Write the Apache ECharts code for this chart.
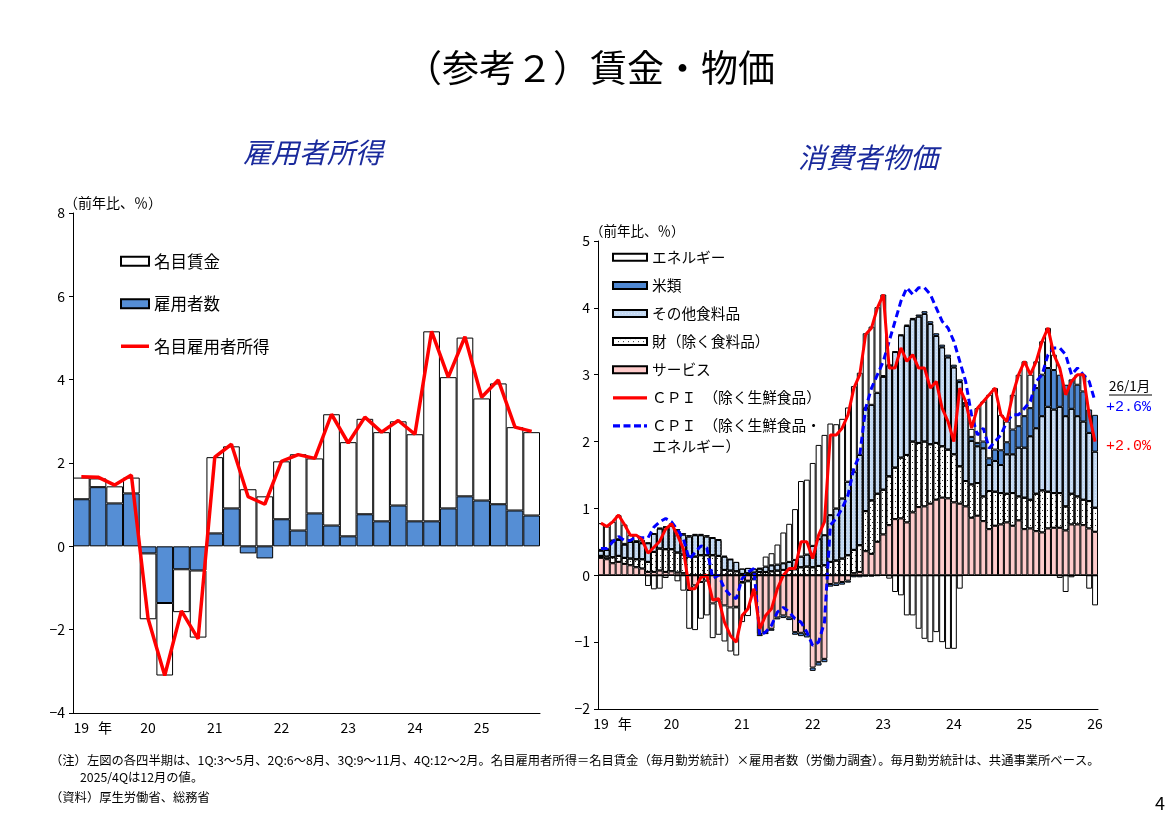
<!DOCTYPE html>
<html>
<head>
<meta charset="utf-8">
<script src="https://cdn.jsdelivr.net/npm/echarts@6/dist/echarts.min.js"></script>
<style>
  html, body { margin: 0; padding: 0; background: #fff; }
  #chart { width: 1170px; height: 827px; }
</style>
</head>
<body>
<div id="chart"></div>
<script>
const JP = '"Noto Sans CJK JP", "Noto Sans", sans-serif';

// year tick labels (shared by both panels)
const yearLabels = ['19', '20', '21', '22', '23', '24', '25', '26'];

// ---- left panel: 雇用者所得 (quarterly, 2019Q1 - 2025Q4) ----
const quarterCats = [];
for (let y = 2019; y <= 2025; y++) for (let q = 1; q <= 4; q++) quarterCats.push(y + '/' + q + 'Q');

const employees = [1.13, 1.42, 1.03, 1.27, -0.17, -1.36, -0.55, -0.58, 0.31, 0.91, -0.17, -0.29, 0.65, 0.38,
  0.79, 0.50, 0.24, 0.77, 0.60, 0.98, 0.60, 0.60, 0.91, 1.20, 1.10, 1.01, 0.86, 0.74];
const wages = [0.52, 0.21, 0.41, 0.38, -1.58, -1.74, -1.03, -1.61, 1.83, 1.49, 1.37, 1.20, 1.39, 1.83,
  1.32, 2.67, 2.26, 2.29, 2.14, 2.02, 2.09, 4.56, 3.15, 3.81, 2.45, 2.90, 2.00, 2.00];
const income = [1.67, 1.66, 1.47, 1.71, -1.73, -3.10, -1.55, -2.22, 2.14, 2.45, 1.19, 1.01, 2.04, 2.20,
  2.11, 3.17, 2.48, 3.10, 2.74, 3.02, 2.69, 5.16, 4.06, 5.03, 3.58, 3.99, 2.86, 2.76];

// ---- right panel: 消費者物価 (monthly, 2019/1 - 2026/1) ----
const monthCats = [];
for (let y = 2019; y <= 2026; y++) for (let m = 1; m <= 12; m++) {
  if (y === 2026 && m > 1) break;
  monthCats.push(y + '/' + m);
}

const services = [
  .26, .24, .18, .20, .17, .15, .12, .10, .05, .05, .07, .05,
  .06, .04, .03, -.22, -.15, -.10, -.08, -.42, -.38, -.45, -.48, -.47,
  -.10, -.08, -.05, -.88, -.85, -.80, -.63, -.60, -.63, -.85, -.86, -.88,
  -1.38, -1.30, -1.25, -.13, -.12, -.10, -.08, .03, .05, .36, .32, .50,
  .61, .75, .84, .85, .79, .94, 1.02, 1.03, 1.07, 1.13, 1.16, 1.15,
  1.09, 1.07, 1.03, .86, .89, .81, .69, .74, .76, .79, .74, .82,
  .69, .70, .66, .64, .70, .71, .71, .67, .76, .76, .75, .70,
  .65];
const goods = [
  .03, .04, .09, .09, .09, .10, .12, .14, .15, .30, .33, .34,
  .33, .30, .28, .28, .28, .30, .30, .30, .29, .08, .07, .06,
  .02, .03, .04, .05, .05, .06, .07, .08, .08, .09, .12, .13,
  .12, .14, .15, .20, .22, .25, .30, .35, .40, .60, .80, .72,
  .67, .73, .77, .91, 1.01, 1.06, .96, .97, .89, .85, .77, .73,
  .72, .56, .38, .50, .49, .37, .57, .51, .47, .43, .49, .36,
  .47, .43, .56, .63, .55, .52, .52, .36, .46, .42, .38, .41,
  .36];
const otherFood = [
  .08, .10, .24, .24, .20, .25, .26, .24, .28, .27, .30, .33,
  .35, .33, .30, .30, .32, .30, .28, .26, .24, .20, .17, .14,
  .08, .08, .06, .05, .08, .09, .09, .10, .12, .14, .16, .18,
  .32, .40, .45, .70, .78, .90, 1.10, 1.17, 1.35, 1.54, 1.43, 1.51,
  1.69, 1.66, 1.73, 1.83, 1.93, 1.83, 1.89, 1.91, 1.80, 1.60, 1.48, 1.38,
  1.30, 1.26, 1.13, .65, .55, .72, .39, .46, .42, .59, .58, .73,
  .75, .95, .98, 1.11, 1.27, 1.25, 1.29, 1.35, 1.27, 1.20, 1.17, 1.02,
  .84];
const rice = [
  .01, .01, .01, .01, .01, .01, .01, .01, .01, .01, .01, .01,
  .02, .02, .02, .02, .02, .02, .02, .01, .01, .01, .00, -.01,
  -.01, -.01, -.01, -.03, -.03, -.03, -.03, -.04, -.04, -.04, -.05, -.05,
  -.05, -.05, -.05, -.04, -.04, -.04, -.03, -.03, -.03, -.02, -.02, -.01,
  .01, .01, .01, .01, .02, .02, .03, .04, .04, .04, .04, .04,
  .04, .04, .04, .06, .05, .10, .10, .17, .22, .18, .37, .32,
  .47, .42, .60, .62, .58, .59, .48, .47, .44, .47, .45, .35,
  .55];
const energy = [
  .40, .34, .28, .36, .29, .09, .09, .04, -.16, -.21, -.20, -.04,
  .01, -.09, -.23, -.58, -.67, -.55, -.52, -.52, -.51, -.54, -.66, -.72,
  -.59, -.52, -.24, .01, .15, .18, .30, .46, .57, .76, 1.13, 1.12,
  1.24, 1.41, 1.50, 1.37, 1.26, 1.19, 1.11, 1.28, 1.23, 1.12, 1.17, 1.28,
  1.22, -.05, -.25, -.30, -.60, -.60, -.80, -.95, -1.00, -.85, -1.00, -1.10,
  -1.10, -.20, .00, .12, .52, .60, .95, .92, .53, .31, .52, .77,
  .82, .50, .40, .50, .60, .23, -.04, -.25, -.03, .15, .25, -.20,
  -.45];
const cpiCore = [
  .78, .73, .80, .90, .76, .60, .60, .53, .33, .42, .51, .69,
  .77, .60, .40, -.20, -.20, -.03, .00, -.37, -.35, -.70, -.90, -1.00,
  -.60, -.50, -.20, -.80, -.60, -.50, -.20, .00, .10, .10, .50, .50,
  .25, .60, .80, 2.10, 2.10, 2.20, 2.40, 2.80, 3.00, 3.60, 3.70, 4.00,
  4.20, 3.10, 3.10, 3.40, 3.20, 3.30, 3.10, 3.10, 2.80, 2.90, 2.50, 2.30,
  2.00, 2.80, 2.60, 2.20, 2.50, 2.60, 2.70, 2.80, 2.40, 2.30, 2.70, 3.00,
  3.20, 3.00, 3.20, 3.50, 3.70, 3.30, 3.10, 2.70, 2.90, 3.00, 3.00, 2.40,
  2.00];
const cpiCoreCore = [
  .40, .40, .50, .58, .52, .52, .58, .56, .56, .72, .80, .85,
  .80, .68, .55, .24, .34, .44, .41, -.05, .00, -.20, -.30, -.35,
  -.05, .05, .10, -.90, -.85, -.75, -.55, -.48, -.55, -.65, -.70, -.85,
  -1.05, -1.00, -.70, .75, .85, 1.00, 1.20, 1.60, 1.80, 2.50, 2.80, 3.00,
  3.20, 3.50, 3.80, 4.10, 4.30, 4.20, 4.30, 4.30, 4.20, 4.00, 3.80, 3.70,
  3.50, 3.20, 2.90, 2.40, 2.10, 2.20, 1.90, 2.00, 2.10, 2.30, 2.40, 2.40,
  2.50, 2.60, 2.90, 3.00, 3.30, 3.40, 3.40, 3.30, 3.00, 3.10, 3.00, 2.90,
  2.60];

const chart = echarts.init(document.getElementById('chart'), null, { renderer: 'canvas' });

const border = { borderColor: '#000', borderWidth: 1 };

// legend icons for the line series (plain line / dashed line, no marker)
const solidIcon = 'path://M0,0h34v3.2h-34z';
const dashIcon = 'path://M0,0h7v3.2h-7zM10.5,0h7v3.2h-7zM21,0h7v3.2h-7zM31,0h3v3.2h-3z';

function yearLabel(step) {
  return {
    interval: step - 1,
    margin: 8,
    color: '#000', fontSize: 14, fontFamily: JP,
    formatter: (v, i) => i === 0 ? '{n|19}{g|年}' : yearLabels[i / step],
    rich: {
      n: { padding: [0, 0, 0, 23], fontSize: 14, fontFamily: JP, color: '#000' },
      g: { padding: [0, 0, 0, 9], fontSize: 14, fontFamily: JP, color: '#000' }
    }
  };
}

function valueAxis(gridIndex, min, max, interval) {
  return {
    type: 'value', gridIndex, min, max, interval,
    axisLine: { show: true, lineStyle: { color: '#000', width: 1 } },
    axisTick: { show: true, length: 4, lineStyle: { color: '#000' } },
    axisLabel: { color: '#000', fontSize: 14, fontFamily: JP, margin: 8,
      formatter: v => v < 0 ? '\u2212' + Math.abs(v) : String(v) },
    splitLine: { show: false }
  };
}

const option = {
  animation: false,
  backgroundColor: '#fff',
  grid: [
    { left: 73, top: 213, width: 467, height: 500, outerBoundsMode: 'none' },
    { left: 598, top: 241, width: 500, height: 468, outerBoundsMode: 'none' }
  ],
  xAxis: [
    {
      type: 'category', gridIndex: 0, data: quarterCats, boundaryGap: true,
      axisLine: { onZero: false, lineStyle: { color: '#000', width: 1 } },
      axisTick: { interval: 3, length: 4, lineStyle: { color: '#000' } },
      axisLabel: yearLabel(4)
    },
    {
      type: 'category', gridIndex: 1, data: monthCats, boundaryGap: true,
      axisLine: { onZero: false, lineStyle: { color: '#000', width: 1 } },
      axisTick: { interval: 11, length: 4, lineStyle: { color: '#000' } },
      axisLabel: yearLabel(12)
    }
  ],
  yAxis: [valueAxis(0, -4, 8, 2), valueAxis(1, -2, 5, 1)],
  legend: [
    {
      orient: 'vertical', left: 120, top: 253, padding: 0,
      itemWidth: 28, itemHeight: 9, itemGap: 26, selectedMode: false,
      textStyle: { color: '#000', fontSize: 16.5, fontFamily: JP },
      data: [{ name: '名目賃金', icon: 'rect' }, { name: '雇用者数', icon: 'rect' },
        { name: '名目雇用者所得', icon: 'path://M0,0h28v3.5h-28z' }]
    },
    {
      orient: 'vertical', left: 612, top: 250, padding: 0,
      itemWidth: 34, itemHeight: 7, itemGap: 13.4, selectedMode: false,
      textStyle: { color: '#000', fontSize: 14.7, fontFamily: JP },
      formatter: n => n === 'ＣＰＩ（除く生鮮食品・エネルギー）' ? 'ＣＰＩ　（除く生鮮食品・' :
        n === 'ＣＰＩ（除く生鮮食品）' ? 'ＣＰＩ　（除く生鮮食品）' : n,
      data: [
        { name: 'エネルギー', icon: 'rect' }, { name: '米類', icon: 'rect' },
        { name: 'その他食料品', icon: 'rect' }, { name: '財（除く食料品）', icon: 'rect' },
        { name: 'サービス', icon: 'rect' },
        { name: 'ＣＰＩ（除く生鮮食品）', icon: solidIcon },
        { name: 'ＣＰＩ（除く生鮮食品・エネルギー）', icon: dashIcon }
      ]
    }
  ],
  series: [
    // left panel
    { name: '雇用者数', type: 'bar', stack: 'inc', xAxisIndex: 0, yAxisIndex: 0, data: employees,
      barCategoryGap: '0%', itemStyle: Object.assign({ color: '#558ed5' }, border) },
    { name: '名目賃金', type: 'bar', stack: 'inc', xAxisIndex: 0, yAxisIndex: 0, data: wages,
      barCategoryGap: '0%', itemStyle: Object.assign({ color: '#fff' }, border) },
    { name: '名目雇用者所得', type: 'line', xAxisIndex: 0, yAxisIndex: 0, data: income,
      symbol: 'none', lineStyle: { color: '#ff0000', width: 3.5 }, itemStyle: { color: '#ff0000' } },

    // right panel
    { name: 'サービス', type: 'bar', stack: 'cpi', xAxisIndex: 1, yAxisIndex: 1, data: services,
      barCategoryGap: '0%', itemStyle: Object.assign({ color: '#ffcccc' }, border),
      markLine: { silent: true, symbol: 'none', label: { show: false },
        lineStyle: { color: '#000', width: 1, type: 'solid' }, data: [{ yAxis: 0 }] } },
    { name: '財（除く食料品）', type: 'bar', stack: 'cpi', xAxisIndex: 1, yAxisIndex: 1, data: goods,
      barCategoryGap: '0%', itemStyle: Object.assign({ color: '#fff',
        decal: { symbol: 'rect', symbolSize: 1, color: '#333', dashArrayX: [[1, 4], [0, 2, 1, 2]], dashArrayY: [1, 2] }
      }, border) },
    { name: 'その他食料品', type: 'bar', stack: 'cpi', xAxisIndex: 1, yAxisIndex: 1, data: otherFood,
      barCategoryGap: '0%', itemStyle: Object.assign({ color: '#c2d8f2',
        decal: { symbol: 'rect', symbolSize: 1, color: 'rgba(255,255,255,0.4)', dashArrayX: [1, 2], dashArrayY: [1, 2] }
      }, border) },
    { name: '米類', type: 'bar', stack: 'cpi', xAxisIndex: 1, yAxisIndex: 1, data: rice,
      barCategoryGap: '0%', itemStyle: Object.assign({ color: '#4f88d3' }, border) },
    { name: 'エネルギー', type: 'bar', stack: 'cpi', xAxisIndex: 1, yAxisIndex: 1, data: energy,
      barCategoryGap: '0%', itemStyle: Object.assign({ color: '#fff' }, border) },
    { name: 'ＣＰＩ（除く生鮮食品・エネルギー）', type: 'line', xAxisIndex: 1, yAxisIndex: 1, data: cpiCoreCore,
      symbol: 'none', lineStyle: { color: '#0000ff', width: 3, type: [7, 4] }, itemStyle: { color: '#0000ff' } },
    { name: 'ＣＰＩ（除く生鮮食品）', type: 'line', xAxisIndex: 1, yAxisIndex: 1, data: cpiCore,
      symbol: 'none', lineStyle: { color: '#ff0000', width: 3 }, itemStyle: { color: '#ff0000' } }
  ],
  graphic: [
    { type: 'text', x: 590, y: 68, style: { text: '（参考２）賃金・物価', fontSize: 37, fontFamily: JP, fill: '#000', align: 'center', verticalAlign: 'middle' } },
    { type: 'text', x: 313, y: 152, style: { text: '雇用者所得', fontSize: 28, fontStyle: 'italic', fontFamily: JP, fill: '#1a2a9c', align: 'center', verticalAlign: 'middle' } },
    { type: 'text', x: 868, y: 157, style: { text: '消費者物価', fontSize: 28, fontStyle: 'italic', fontFamily: JP, fill: '#1a2a9c', align: 'center', verticalAlign: 'middle' } },
    { type: 'text', x: 64, y: 203, style: { text: '（前年比、％）', fontSize: 14, fontFamily: JP, fill: '#000', verticalAlign: 'middle' } },
    { type: 'text', x: 590, y: 231, style: { text: '（前年比、％）', fontSize: 13.5, fontFamily: JP, fill: '#000', verticalAlign: 'middle' } },
    { type: 'text', x: 652, y: 446, style: { text: 'エネルギー）', fontSize: 14.7, fontFamily: JP, fill: '#000', verticalAlign: 'middle' } },
    { type: 'text', x: 1109, y: 386, style: { text: '26/1月', fontSize: 13.5, fontFamily: JP, fill: '#000', verticalAlign: 'middle' } },
    { type: 'line', shape: { x1: 1109, y1: 395, x2: 1152, y2: 395 }, style: { stroke: '#000', lineWidth: 1 } },
    { type: 'text', x: 1106, y: 407, style: { text: '+2.6%', fontSize: 15, fontFamily: '"Liberation Mono", monospace', fill: '#0000ff', verticalAlign: 'middle' } },
    { type: 'text', x: 1106, y: 446, style: { text: '+2.0%', fontSize: 15, fontFamily: '"Liberation Mono", monospace', fill: '#ff0000', verticalAlign: 'middle' } },
    { type: 'text', x: 50, y: 760, style: { text: '（注）左図の各四半期は、1Q:3～5月、2Q:6～8月、3Q:9～11月、4Q:12～2月。名目雇用者所得＝名目賃金（毎月勤労統計）×雇用者数（労働力調査）。毎月勤労統計は、共通事業所ベース。', fontSize: 12.3, fontFamily: JP, fill: '#000', verticalAlign: 'middle' } },
    { type: 'text', x: 80, y: 777, style: { text: '2025/4Qは12月の値。', fontSize: 12.3, fontFamily: JP, fill: '#000', verticalAlign: 'middle' } },
    { type: 'text', x: 50, y: 797, style: { text: '（資料）厚生労働省、総務省', fontSize: 12.3, fontFamily: JP, fill: '#000', verticalAlign: 'middle' } },
    { type: 'text', x: 1155, y: 803, style: { text: '4', fontSize: 18, fontFamily: JP, fill: '#000', verticalAlign: 'middle' } }
  ]
};

chart.setOption(option);
</script>
</body>
</html>
